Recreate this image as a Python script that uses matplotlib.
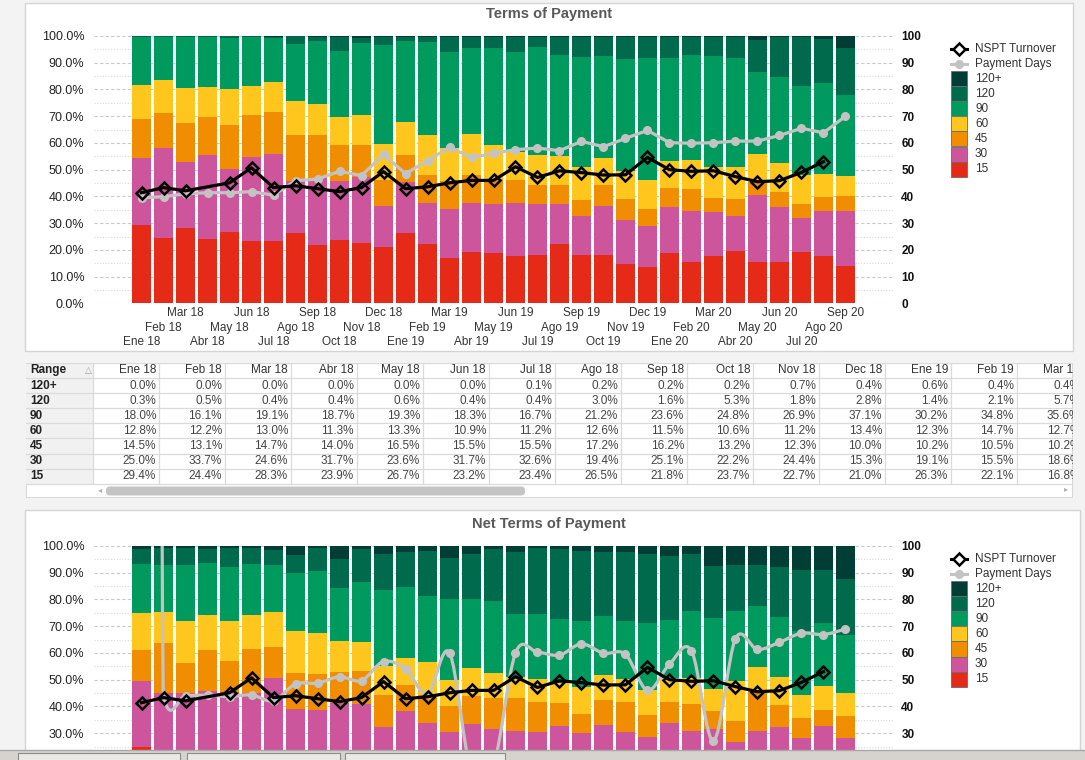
import numpy as np
import matplotlib
matplotlib.use('Agg')
import matplotlib.pyplot as plt
from matplotlib.patches import Rectangle, FancyBboxPatch, PathPatch
from matplotlib.path import Path

plt.rcParams['font.family'] = ['Liberation Sans', 'DejaVu Sans']

months = ['Ene 18', 'Feb 18', 'Mar 18', 'Abr 18', 'May 18', 'Jun 18', 'Jul 18', 'Ago 18',
          'Sep 18', 'Oct 18', 'Nov 18', 'Dec 18', 'Ene 19', 'Feb 19', 'Mar 19', 'Abr 19',
          'May 19', 'Jun 19', 'Jul 19', 'Ago 19', 'Sep 19', 'Oct 19', 'Nov 19', 'Dec 19',
          'Ene 20', 'Feb 20', 'Mar 20', 'Abr 20', 'May 20', 'Jun 20', 'Jul 20', 'Ago 20', 'Sep 20']
ranges = ['15', '30', '45', '60', '90', '120', '120+']
range_colors = ['#e52b17', '#cd559b', '#f18d00', '#ffc61e', '#00995e', '#006a4d', '#003d35']

# Terms of Payment (% of turnover per range)
t15 = [29.4, 24.4, 28.3, 23.9, 26.7, 23.2, 23.4, 26.5, 21.8, 23.7, 22.7, 21.0, 26.3, 22.1, 16.8, 19.3, 18.8,
       17.7, 18.1, 22.2, 18.1, 18.1, 14.7, 13.6, 18.8, 15.5, 17.7, 19.6, 15.5, 15.5, 19.2, 17.7, 14.0]
t30 = [25.0, 33.7, 24.6, 31.7, 23.6, 31.7, 32.6, 19.4, 25.1, 22.2, 24.4, 15.3, 19.1, 15.5, 18.6, 18.2, 18.5,
       19.8, 19.2, 15.1, 14.6, 18.3, 16.5, 15.3, 17.2, 19.0, 16.5, 13.1, 25.0, 20.5, 12.7, 16.8, 20.5]
t45 = [14.5, 13.1, 14.7, 14.0, 16.5, 15.5, 15.5, 17.2, 16.2, 13.2, 12.3, 10.0, 10.2, 10.5, 10.2, 10.5, 9.2,
       8.6, 7.1, 7.1, 6.0, 8.0, 7.8, 6.4, 7.1, 8.3, 5.2, 6.3, 5.0, 5.6, 5.3, 5.3, 5.6]
t60 = [12.8, 12.2, 13.0, 11.3, 13.3, 10.9, 11.2, 12.6, 11.5, 10.6, 11.2, 13.4, 12.3, 14.7, 12.7, 15.3, 12.7,
       10.6, 11.1, 10.7, 12.3, 10.0, 10.4, 10.8, 10.1, 10.8, 11.6, 12.0, 10.4, 10.9, 10.8, 8.6, 7.5]
t90 = [18.0, 16.1, 19.1, 18.7, 19.3, 18.3, 16.7, 21.2, 23.6, 24.8, 26.9, 37.1, 30.2, 34.8, 35.6, 32.3, 36.4,
       37.4, 40.4, 37.8, 41.1, 38.1, 42.0, 45.7, 38.6, 39.3, 41.5, 40.8, 30.6, 32.2, 33.3, 34.0, 30.3]
t120 = [0.3, 0.5, 0.4, 0.4, 0.6, 0.4, 0.4, 3.0, 1.6, 5.3, 1.8, 2.8, 1.4, 2.1, 5.7, 4.1, 4.1,
        5.6, 3.8, 6.8, 7.6, 7.2, 8.3, 7.9, 7.9, 6.8, 7.2, 7.9, 12.0, 15.0, 18.4, 16.5, 17.6]
t120p = [0.0, 0.0, 0.0, 0.0, 0.0, 0.0, 0.1, 0.2, 0.2, 0.2, 0.7, 0.4, 0.6, 0.4, 0.4, 0.3, 0.3,
         0.3, 0.3, 0.3, 0.3, 0.3, 0.3, 0.3, 0.3, 0.3, 0.3, 0.3, 1.5, 0.3, 0.3, 1.1, 4.5]

# Net Terms of Payment
n15 = [24.9, 21.5, 20.8, 19.6, 20.5, 19.0, 18.7, 20.2, 17.4, 18.2, 17.9, 16.5, 19.8, 17.1, 12.6, 14.3, 13.9,
       13.5, 13.7, 16.8, 13.8, 13.9, 11.5, 10.7, 14.8, 12.1, 13.8, 15.4, 12.0, 12.2, 14.9, 13.6, 10.8]
n30 = [24.7, 23.5, 24.2, 26.2, 25.0, 26.0, 32.1, 18.9, 21.3, 22.9, 23.1, 15.9, 18.6, 16.8, 17.9, 19.2, 17.7,
       17.4, 16.8, 16.0, 16.3, 19.2, 19.0, 17.9, 19.1, 18.8, 17.8, 11.4, 18.9, 20.2, 13.4, 19.2, 17.5]
n45 = [11.5, 18.8, 11.3, 15.3, 11.5, 16.5, 11.5, 13.5, 13.5, 11.8, 12.3, 11.9, 9.7, 10.4, 9.7, 10.5, 11.6,
       12.3, 11.2, 8.5, 7.1, 9.4, 11.2, 8.3, 7.8, 10.1, 6.8, 7.8, 14.9, 8.2, 7.4, 5.9, 8.2]
n60 = [13.9, 11.5, 15.7, 13.1, 15.0, 12.7, 13.0, 15.6, 15.3, 11.6, 10.8, 10.9, 10.1, 12.4, 9.7, 10.4, 9.4,
       7.9, 8.6, 7.5, 10.1, 9.3, 8.6, 9.3, 9.0, 9.7, 8.2, 15.0, 9.0, 10.5, 8.6, 9.0, 8.6]
n90 = [18.3, 17.6, 20.9, 19.4, 20.2, 19.1, 17.6, 21.7, 23.2, 19.8, 22.5, 28.4, 26.5, 24.6, 30.3, 25.8, 26.9,
       23.5, 24.3, 23.9, 24.7, 22.0, 21.7, 25.0, 21.7, 25.0, 26.5, 26.1, 22.8, 22.4, 23.9, 23.5, 21.6]
n120 = [5.6, 6.5, 6.4, 5.3, 7.1, 6.0, 5.6, 6.7, 8.6, 10.8, 12.3, 13.4, 13.1, 16.8, 15.3, 16.8, 19.4,
        23.2, 24.7, 26.2, 26.1, 24.0, 25.8, 25.8, 23.9, 21.3, 19.4, 17.2, 15.3, 18.7, 22.8, 19.8, 21.0]
n120p = [1.1, 0.6, 0.7, 1.1, 0.7, 0.7, 1.5, 3.4, 0.7, 4.9, 1.1, 3.0, 2.2, 1.9, 4.5, 3.0, 1.1,
         2.2, 0.7, 1.1, 1.9, 2.2, 2.2, 3.0, 3.7, 3.0, 7.5, 7.1, 7.1, 7.8, 9.0, 9.0, 12.3]

nan = np.nan
nspt_turnover = [41.4, 43.3, 42.1, nan, 45.1, 50.7, 43.3, 44.0, 42.9, 41.8, 43.3, 49.3, 42.9, 43.6, 45.1, 46.0, 46.0,
                 51.1, 47.1, 49.6, 48.9, 48.0, 48.1, 54.6, 50.0, 49.4, 49.6, 47.4, 45.5, 45.9, 49.0, 53.0, nan]
payment_days = [39.5, 39.9, 41.0, 41.4, 41.4, 41.8, 40.5, 45.9, 46.5, 49.4, 47.8, 55.7, 48.5, 53.4, 58.4, 54.6, 56.1,
                57.5, 58.1, 57.1, 60.6, 58.6, 61.7, 64.7, 60.1, 59.9, 60.1, 60.7, 60.7, 62.8, 65.5, 63.8, 70.0]
net_payment_days = [5000, 43.7, 44.0, 44.2, 43.7, 44.3, 42.1, 48.4, 48.7, 51.1, 49.7, 56.8, 54.0, 44.7, 60.0, 15.0, 18.0,
                    60.0, 60.3, 59.2, 63.4, 59.9, 59.5, 46.0, 55.8, 60.8, 27.1, 65.3, 61.3, 64.0, 67.4, 66.9, 68.9]

terms = [t15, t30, t45, t60, t90, t120, t120p]
net_terms = [n15, n30, n45, n60, n90, n120, n120p]
table_months = 15   # columns the table shows before its scroll edge

W, H = 1085, 760
fig = plt.figure(figsize=(W / 100, H / 100), dpi=100)
fig.patch.set_facecolor('#f3f3f3')


def px_rect(x0, y0, x1, y1):
    return [x0 / W, 1 - y1 / H, (x1 - x0) / W, (y1 - y0) / H]


bg = fig.add_axes([0, 0, 1, 1], zorder=0)
bg.set_xlim(0, W)
bg.set_ylim(H, 0)
bg.axis('off')

# panels
bg.add_patch(Rectangle((24.5, 2.5), 1073 - 24.5, 351 - 2.5, fc='white', ec='#d4d4d4', lw=1))
bg.add_patch(Rectangle((24.5, 509.5), 1080 - 24.5, 300, fc='white', ec='#d4d4d4', lw=1))
bg.text(549, 14, 'Terms of Payment', ha='center', va='center', fontsize=10.5,
        fontweight='bold', color='#595959')
bg.text(549, 524, 'Net Terms of Payment', ha='center', va='center', fontsize=10.5,
        fontweight='bold', color='#595959')


def smooth_path(xs, ys, limit=35):
    ys = np.asarray(ys, float)
    m = np.empty(len(ys))
    m[1:-1] = (ys[2:] - ys[:-2]) / 2
    m[0] = ys[1] - ys[0]
    m[-1] = ys[-1] - ys[-2]
    m = np.clip(m, -limit, limit)
    verts = [(xs[0], ys[0])]
    codes = [Path.MOVETO]
    for i in range(len(ys) - 1):
        verts += [(xs[i] + 1 / 3, ys[i] + m[i] / 3),
                  (xs[i + 1] - 1 / 3, ys[i + 1] - m[i + 1] / 3),
                  (xs[i + 1], ys[i + 1])]
        codes += [Path.CURVE4] * 3
    return Path(verts, codes)


def draw_chart(y_top, stacks, days, smooth, month_labels=True, lowest_tick=0):
    ax = fig.add_axes(px_rect(94, y_top, 893, y_top + 267.4), zorder=2)
    ax.patch.set_visible(False)
    x = np.arange(len(months))
    base = np.zeros(len(months))
    for vals, col in zip(stacks, range_colors):
        ax.bar(x, vals, 0.86, bottom=base, color=col, linewidth=0, zorder=2)
        base = base + np.array(vals)
    ax.set_xlim(-2.16, 34.16)
    ax.set_ylim(0, 100)
    major = np.arange(lowest_tick, 101, 10)
    ax.set_yticks(major)
    ax.set_yticks(np.arange(5, 100, 10), minor=True)
    ax.set_yticklabels([f'{v:.1f}%' for v in major])
    ax.tick_params(axis='y', which='both', length=0, pad=7, labelsize=9, labelcolor='#222222')
    ax.set_xticks([])
    ax.grid(axis='y', which='major', color='#c9c9c9', lw=0.8, ls=(0, (3, 2)))
    ax.grid(axis='y', which='minor', color='#dadada', lw=0.8, ls=(0, (1, 1.5)))
    ax.set_axisbelow(True)
    for s in ax.spines.values():
        s.set_visible(False)

    if month_labels:
        tr = ax.get_xaxis_transform()
        offs = [-0.146, -0.0913, -0.0352]
        for i, m in enumerate(months):
            ax.text(i, offs[i % 3], m, transform=tr, ha='center', va='center',
                    fontsize=8.5, color='#333333')

    ax2 = ax.twinx()
    ax2.set_ylim(0, 100)
    ax2.set_yticks(major)
    ax2.tick_params(axis='y', length=0, pad=6, labelsize=8.5, labelcolor='#111111')
    for lab in ax2.get_yticklabels():
        lab.set_fontweight('bold')
    for s in ax2.spines.values():
        s.set_visible(False)

    if smooth:
        ax2.add_patch(PathPatch(smooth_path(x, days), fc='none', ec='#c3c3c3', lw=2.3, zorder=3))
        ax2.plot(x, days, 'o', color='#c3c3c3', ms=5.5, zorder=3)
    else:
        ax2.plot(x, days, '-o', color='#c3c3c3', lw=2.3, ms=5.5, zorder=3)
    nv = np.array(nspt_turnover, float)
    ok = ~np.isnan(nv)
    ax2.plot(x[ok], nv[ok], '-D', color='black', lw=2.3, ms=6.5, mfc='none',
             mec='black', mew=1.8, zorder=4)
    return ax


def draw_legend(y0):
    bg.plot([951, 967], [y0, y0], color='black', lw=2.2)
    bg.plot([959], [y0], 'D', ms=6, mfc='white', mec='black', mew=1.8)
    bg.text(975, y0, 'NSPT Turnover', va='center', fontsize=8.5, color='#333333')
    y1 = y0 + 14.7
    bg.plot([951, 967], [y1, y1], color='#c3c3c3', lw=2.2)
    bg.plot([959], [y1], 'o', ms=5.5, color='#c3c3c3')
    bg.text(975, y1, 'Payment Days', va='center', fontsize=8.5, color='#333333')
    top = y0 + 22
    for k, (name, col) in enumerate(zip(ranges[::-1], range_colors[::-1])):
        bg.add_patch(Rectangle((951, top + 15.1 * k), 16, 15.1, fc=col, ec='#6b6b6b', lw=0.6))
        bg.text(975, top + 15.1 * k + 7.6, name, va='center', fontsize=8.5, color='#333333')


draw_chart(36, terms, payment_days, smooth=False)
# the lower chart is cut off by the window edge, so only its upper ticks show
draw_chart(546, net_terms, net_payment_days, smooth=True, month_labels=False, lowest_tick=30)
draw_legend(49)
draw_legend(559)

# table of the Terms of Payment values, cut at the right scroll edge
tb = fig.add_axes(px_rect(26, 363, 1073, 498), zorder=3)
tb.set_xlim(26, 1073)
tb.set_ylim(498, 363)
tb.axis('off')
tb.add_patch(Rectangle((26, 363), 1047, 135, fc='white', ec='#d0d0d0', lw=1.2))
tb.add_patch(Rectangle((26, 363), 67, 121, fc='#f1f1f1', ec='none'))
for j in range(9):
    yy = 363 + 15.1 * j
    tb.plot([26, 1073], [yy, yy], color='#dadada', lw=0.9)
for c in range(table_months + 1):
    xx = 93 + 66 * c
    tb.plot([xx, xx], [363, 484], color='#dadada', lw=0.9)
tb.text(30, 370.5, 'Range', fontweight='bold', fontsize=8.5, va='center', color='#222222')
tb.text(88, 371, '△', fontsize=6.5, ha='center', va='center', color='#a0a0a0')
for c, m in enumerate(months[:table_months]):
    tb.text(93 + 66 * (c + 1) - 3, 370.5, m, ha='right', va='center', fontsize=8.5,
            color='#333333', clip_on=True)
row_names = ranges[::-1]
row_values = terms[::-1]
for r, (name, vals) in enumerate(zip(row_names, row_values)):
    yy = 385.8 + 15.1 * r
    tb.text(30, yy, name, fontweight='bold', fontsize=8.5, va='center', color='#222222')
    for c, v in enumerate(vals[:table_months]):
        tb.text(93 + 66 * (c + 1) - 3, yy, f'{v:.1f}%', ha='right', va='center',
                fontsize=8.5, color='#444444', clip_on=True)
tb.text(100, 491, '◂', fontsize=6, ha='center', va='center', color='#b0b0b0')
tb.text(1066, 490, '▸', fontsize=6, ha='center', va='center', color='#b0b0b0')
tb.add_patch(FancyBboxPatch((106, 486.5), 419, 9, boxstyle='round,pad=0,rounding_size=4',
                            fc='#c4c4c4', ec='none'))

# window strip at the bottom of the screenshot
fg = fig.add_axes([0, 0, 1, 1], zorder=10)
fg.set_xlim(0, W)
fg.set_ylim(H, 0)
fg.axis('off')
fg.add_patch(Rectangle((0, 749.5), W, 11, fc='#d6d3ce', ec='none'))
fg.plot([0, W], [749.5, 749.5], color='#a8a8a8', lw=1)
for x0, x1 in [(18, 180), (187, 340), (345, 505)]:
    fg.add_patch(Rectangle((x0, 752.5), x1 - x0, 10, fc='#ebe9e5', ec='#8c8c8c', lw=0.8))

fig.savefig('out.png', dpi=100, facecolor=fig.get_facecolor())
